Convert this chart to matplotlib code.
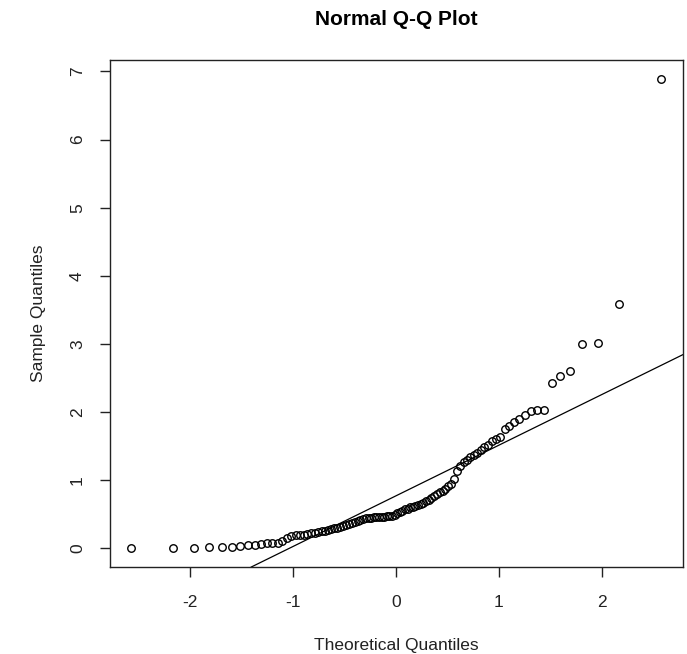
import numpy as np
import matplotlib
matplotlib.use("Agg")
import matplotlib.pyplot as plt

plt.rcParams['font.family'] = ['Liberation Sans', 'DejaVu Sans']
plt.rcParams['axes.unicode_minus'] = False

# theoretical normal quantiles, (i - 0.5) / 100
theoretical = [
    -2.576, -2.170, -1.960, -1.812, -1.695, -1.598, -1.514, -1.440, -1.372, -1.311,
    -1.254, -1.200, -1.150, -1.103, -1.058, -1.015, -0.974, -0.935, -0.896, -0.860,
    -0.824, -0.789, -0.755, -0.722, -0.690, -0.659, -0.628, -0.598, -0.568, -0.539,
    -0.510, -0.482, -0.454, -0.426, -0.399, -0.372, -0.345, -0.319, -0.292, -0.266,
    -0.240, -0.215, -0.189, -0.164, -0.138, -0.113, -0.088, -0.063, -0.038, -0.013,
    0.013, 0.038, 0.063, 0.088, 0.113, 0.138, 0.164, 0.189, 0.215, 0.240,
    0.266, 0.292, 0.319, 0.345, 0.372, 0.399, 0.426, 0.454, 0.482, 0.510,
    0.539, 0.568, 0.598, 0.628, 0.659, 0.690, 0.722, 0.755, 0.789, 0.824,
    0.860, 0.896, 0.935, 0.974, 1.015, 1.058, 1.103, 1.150, 1.200, 1.254,
    1.311, 1.372, 1.440, 1.514, 1.598, 1.695, 1.812, 1.960, 2.170, 2.576,
]

sample = [
    0.00, 0.00, 0.01, 0.02, 0.02, 0.02, 0.03, 0.04, 0.05, 0.06,
    0.07, 0.07, 0.08, 0.11, 0.15, 0.18, 0.19, 0.19, 0.20, 0.21,
    0.22, 0.23, 0.24, 0.25, 0.26, 0.27, 0.28, 0.29, 0.30, 0.31,
    0.32, 0.34, 0.36, 0.37, 0.39, 0.40, 0.42, 0.43, 0.44, 0.45,
    0.45, 0.46, 0.46, 0.46, 0.46, 0.46, 0.47, 0.47, 0.48, 0.49,
    0.51, 0.53, 0.55, 0.57, 0.58, 0.60, 0.61, 0.62, 0.63, 0.65,
    0.67, 0.69, 0.71, 0.74, 0.77, 0.79, 0.82, 0.84, 0.87, 0.91,
    0.95, 1.01, 1.13, 1.20, 1.26, 1.30, 1.34, 1.37, 1.40, 1.44,
    1.48, 1.52, 1.57, 1.60, 1.64, 1.75, 1.80, 1.86, 1.90, 1.95,
    2.01, 2.03, 2.03, 2.42, 2.53, 2.60, 3.00, 3.01, 3.58, 6.89,
]

x = np.array(theoretical)
y = np.array(sample)

# qqline: through the first and third quartiles
q1, q3 = np.quantile(y, [0.25, 0.75])
z1, z3 = -0.6745, 0.6745
slope = (q3 - q1) / (z3 - z1)
intercept = q1 - slope * z1

fig = plt.figure(figsize=(6.87, 6.54), dpi=100)
ax = fig.add_axes([0.160, 0.133, 0.834, 0.775])

ax.plot(x, y, linestyle='none', marker='o', markersize=5.4,
        markerfacecolor='none', markeredgecolor='black', markeredgewidth=1.0)
ax.axline((0, intercept), slope=slope, color='black', linewidth=0.9)

ax.set_xlim(-2.78, 2.79)
ax.set_ylim(-0.276, 7.166)
ax.set_xticks([-2, -1, 0, 1, 2])
ax.set_yticks(range(8))

for s in ax.spines.values():
    s.set_linewidth(1.0)
    s.set_color('#222222')

ax.tick_params(direction='out', length=7, width=1, color='#222222',
               labelsize=12.5, labelcolor='#222222', pad=11)
ax.tick_params(axis='x', pad=13)
for lab in ax.get_yticklabels():
    lab.set_rotation(90)
    lab.set_va('center')

ax.set_xlabel('Theoretical Quantiles', fontsize=12.5, color='#222222', labelpad=20)
ax.set_ylabel('Sample Quantiles', fontsize=12.5, color='#222222', labelpad=17)
ax.set_title('Normal Q-Q Plot', fontsize=15, fontweight='bold', pad=25)

plt.savefig('out.png', dpi=100)
